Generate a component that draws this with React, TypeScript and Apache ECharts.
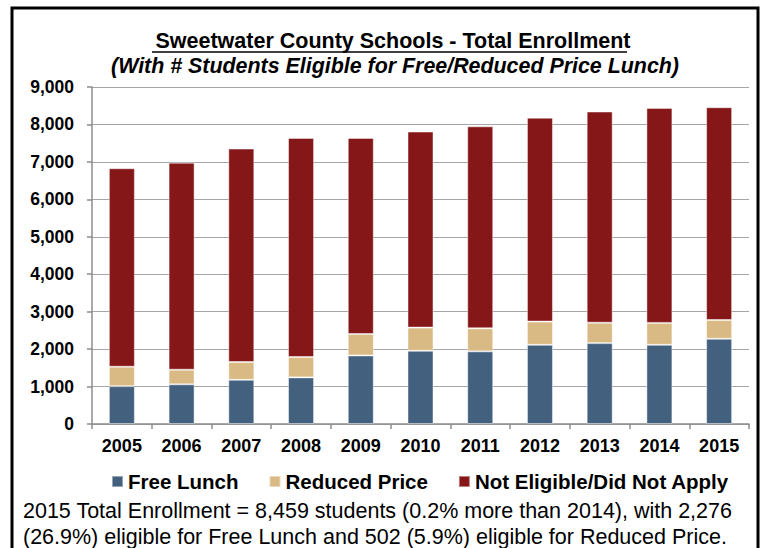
import React, { useEffect, useRef } from "react";
import * as echarts from "echarts";

const years = ["2005", "2006", "2007", "2008", "2009", "2010", "2011", "2012", "2013", "2014", "2015"];
const freeLunch = [1010, 1060, 1180, 1245, 1830, 1955, 1940, 2115, 2160, 2115, 2276];
const reducedPrice = [520, 390, 475, 545, 575, 620, 615, 620, 545, 585, 502];
const notEligible = [5300, 5530, 5700, 5850, 5235, 5235, 5395, 5445, 5640, 5742, 5681];
const yTicks = [0, 1000, 2000, 3000, 4000, 5000, 6000, 7000, 8000, 9000];

const titleText = "Sweetwater County Schools - Total Enrollment";
const subtitleText = "(With # Students Eligible for Free/Reduced Price Lunch)";
const noteLine1 = "2015 Total Enrollment = 8,459 students (0.2% more than 2014), with 2,276";
const noteLine2 = "(26.9%) eligible for Free Lunch and 502 (5.9%) eligible for Reduced Price.";

const FONT = "'Liberation Sans', Arial, sans-serif";

export default function App() {
  const ref = useRef<HTMLDivElement>(null);
  useEffect(() => {
    if (!ref.current) return;
    const chart = echarts.init(ref.current, null, { renderer: "svg" });
    const fmt = (v: number) => v.toLocaleString("en-US");
    const barCommon = {
      type: "bar",
      stack: "total",
      barWidth: 26,
      itemStyle: { borderColor: "rgba(255,255,255,0.45)", borderWidth: 1 },
    };
    chart.setOption({
      animation: false,
      backgroundColor: "#ffffff",
      textStyle: { fontFamily: FONT },
      title: [
        {
          text: titleText,
          left: 388,
          textAlign: "center",
          top: 25,
          textStyle: { fontFamily: FONT, fontSize: 21.5, fontWeight: "bold", color: "#000" },
        },
        {
          text: subtitleText,
          left: 390,
          textAlign: "center",
          top: 50,
          textStyle: { fontFamily: FONT, fontSize: 21.4, fontWeight: "bold", fontStyle: "italic", color: "#000" },
        },
      ],
      legend: {
        left: 106,
        top: 466,
        itemWidth: 11,
        itemHeight: 11,
        itemGap: 30,
        icon: "rect",
        textStyle: { fontFamily: FONT, fontSize: 20.5, fontWeight: "bold", color: "#000" },
        data: ["Free Lunch", "Reduced Price", "Not Eligible/Did Not Apply"],
      },
      grid: { left: 92, right: 13, top: 87, bottom: 124 },
      xAxis: {
        type: "category",
        data: years,
        axisLine: { lineStyle: { color: "#8c8c8c", width: 1.5 } },
        axisTick: { show: true, length: 5, lineStyle: { color: "#8c8c8c", width: 1.5 } },
        axisLabel: { fontFamily: FONT, fontSize: 18, fontWeight: "bold", color: "#000", margin: 13 },
      },
      yAxis: {
        type: "value",
        min: 0,
        max: 9000,
        interval: 1000,
        axisLine: { show: true, lineStyle: { color: "#8c8c8c", width: 1.5 } },
        axisTick: { show: true, length: 5, lineStyle: { color: "#8c8c8c", width: 1.5 } },
        splitLine: { lineStyle: { color: "#a6a6a6", width: 1.2 } },
        axisLabel: {
          fontFamily: FONT,
          fontSize: 17.5,
          fontWeight: "bold",
          color: "#000",
          margin: 18,
          formatter: (v: number) => (yTicks.includes(v) ? fmt(v) : ""),
        },
      },
      series: [
        { ...barCommon, name: "Free Lunch", data: freeLunch, itemStyle: { ...barCommon.itemStyle, color: "#44607F" } },
        { ...barCommon, name: "Reduced Price", data: reducedPrice, itemStyle: { ...barCommon.itemStyle, color: "#D9BA84" } },
        { ...barCommon, name: "Not Eligible/Did Not Apply", data: notEligible, itemStyle: { ...barCommon.itemStyle, color: "#851719" } },
      ],
      graphic: [
        {
          type: "rect",
          shape: { x: 12, y: 8, width: 746, height: 560 },
          style: { fill: "none", stroke: "#000", lineWidth: 3 },
          silent: true,
        },
        {
          type: "line",
          shape: { x1: 152, y1: 52, x2: 627, y2: 52 },
          style: { stroke: "#000", lineWidth: 1.5 },
        },
        {
          type: "text",
          x: 23,
          y: 511,
          style: { text: noteLine1, font: `21.5px ${FONT}`, fill: "#000", verticalAlign: "middle" },
        },
        {
          type: "text",
          x: 23,
          y: 537,
          style: { text: noteLine2, font: `21.5px ${FONT}`, fill: "#000", verticalAlign: "middle" },
        },
      ],
    });
    return () => chart.dispose();
  }, []);
  return (
    <div
      ref={ref}
      style={{ position: "fixed", left: 0, top: 0, width: 762, height: 548 }}
    />
  );
}
